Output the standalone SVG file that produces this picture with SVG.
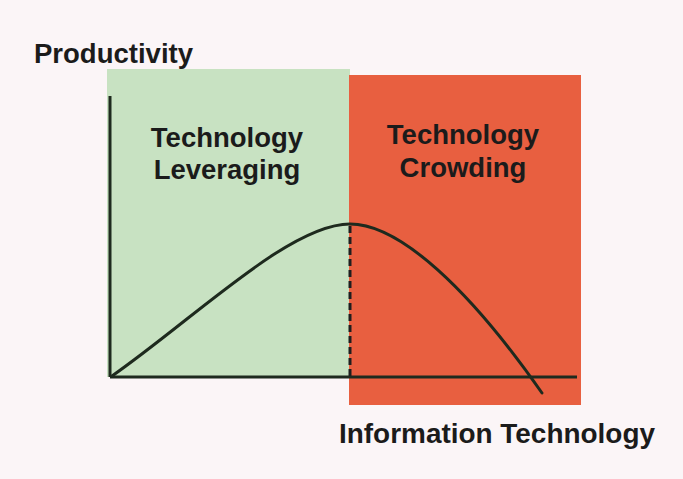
<svg xmlns="http://www.w3.org/2000/svg" width="683" height="479" viewBox="0 0 683 479">
  <style>
    .lbl { font-family: "Liberation Sans", Arial, sans-serif; font-weight: bold; font-size: 27.5px; fill: #1b1b1b; }
    .ax { stroke: #1e2a1e; stroke-width: 3; fill: none; }
    .curve { stroke: #1e2a1e; stroke-width: 3; fill: none; stroke-linecap: round; }
    .dash { stroke: #1e1e1e; stroke-width: 3; stroke-dasharray: 7 4; fill: none; }
  </style>
  <rect x="0" y="0" width="683" height="479" fill="#fbf5f7"/>
  <g id="zone-leveraging">
    <rect x="107" y="69" width="243" height="308" fill="#c8e2c2"/>
    <text class="lbl" x="227" y="147" text-anchor="middle">Technology</text>
    <text class="lbl" x="227" y="179" text-anchor="middle">Leveraging</text>
  </g>
  <g id="zone-crowding">
    <rect x="349" y="75" width="232" height="330" fill="#e85f40"/>
    <text class="lbl" x="463" y="144" text-anchor="middle">Technology</text>
    <text class="lbl" x="463" y="177" text-anchor="middle">Crowding</text>
  </g>
  <g id="axes">
    <line class="ax" x1="110" y1="96" x2="110" y2="377"/>
    <line class="ax" x1="110" y1="377" x2="577" y2="377"/>
    <text class="lbl" x="34" y="63" textLength="159" lengthAdjust="spacingAndGlyphs">Productivity</text>
    <text class="lbl" x="339" y="443" textLength="316" lengthAdjust="spacingAndGlyphs">Information Technology</text>
  </g>
  <g id="connectors">
    <path class="curve" d="M112,376 C195,318 290,224 350,224 C400,224 470,290 542,393"/>
    <line class="dash" x1="350" y1="226" x2="350" y2="377"/>
  </g>
</svg>
